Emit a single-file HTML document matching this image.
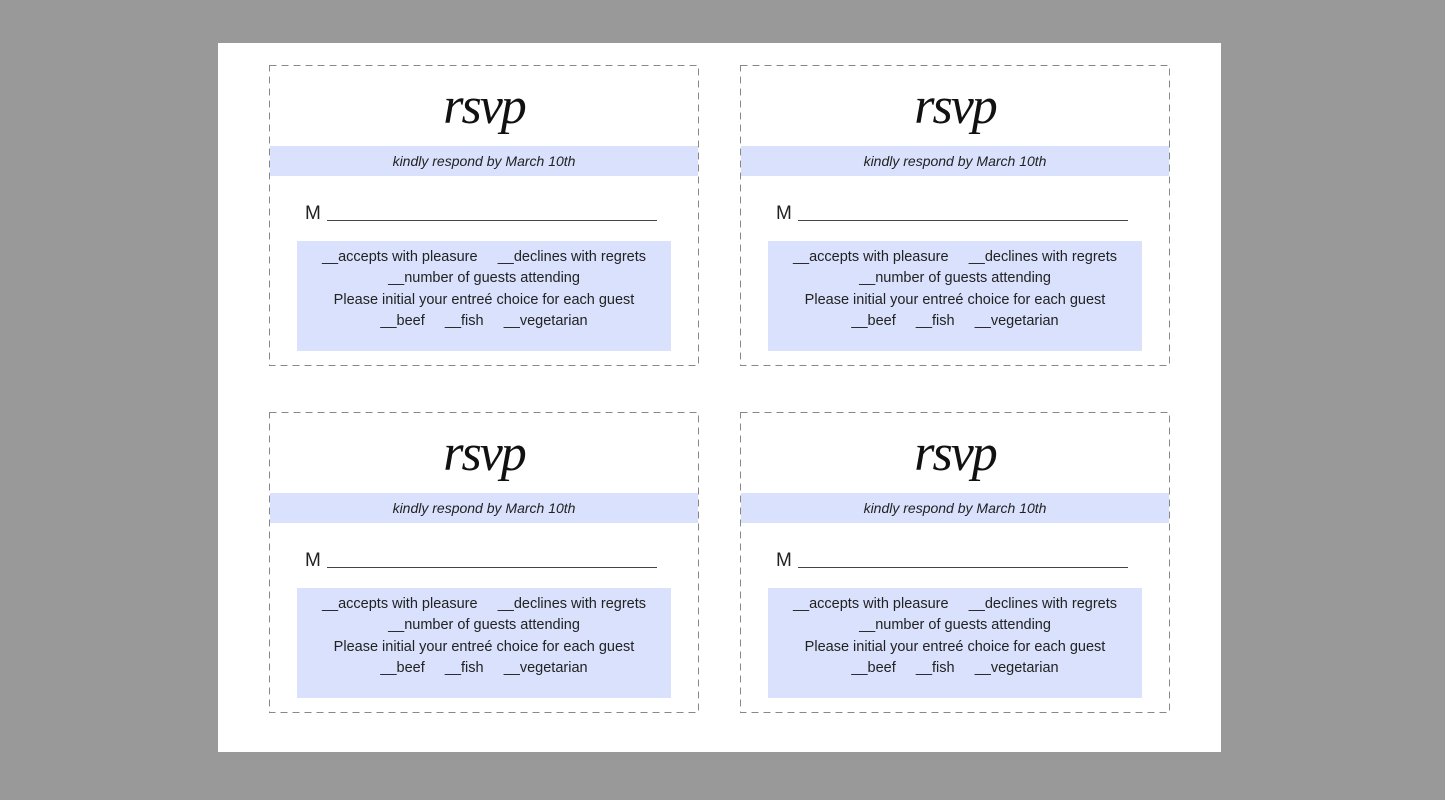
<!DOCTYPE html>
<html><head><meta charset="utf-8"><style>
body{margin:0;width:1445px;height:800px;background:#999;position:relative;overflow:hidden;font-family:"Liberation Sans",sans-serif;}
.page{position:absolute;left:218px;top:43px;width:1003px;height:709px;background:#fff;}
.card{position:absolute;width:430px;height:301px;}
.card svg{position:absolute;left:0;top:0;}
.rsvp{position:absolute;left:0;width:100%;top:12px;text-align:center;font-family:"Liberation Serif",serif;font-style:italic;font-size:52px;color:#111;letter-spacing:-2px;}
.band{position:absolute;left:1px;width:428px;top:81px;height:30px;background:#d9e1fc;text-align:center;font-style:italic;font-size:14px;line-height:30px;color:#222;}
.m{position:absolute;left:36px;top:138px;font-size:19px;color:#222;}
.line{position:absolute;left:58px;top:155px;width:330px;border-top:1px solid #444;}
.box{position:absolute;left:28px;top:176px;width:374px;height:110px;background:#d9e1fc;}
.t{position:absolute;left:0;width:100%;text-align:center;font-size:14.5px;color:#222;white-space:pre;}
</style></head><body>
<div class="page"></div>
<div class="card" style="left:269px;top:65px"><svg width="430" height="301"><rect x="0.5" y="0.5" width="429" height="300" fill="none" stroke="#888" stroke-dasharray="7,5"/></svg><div class="rsvp">rsvp</div><div class="band">kindly respond by March 10th</div><div class="m">M</div><div class="line"></div><div class="box"><div class="t" style="top:8px">__accepts with pleasure     __declines with regrets</div><div class="t" style="top:29px">__number of guests attending</div><div class="t" style="top:51px">Please initial your entreé choice for each guest</div><div class="t" style="top:72px">__beef     __fish     __vegetarian</div></div></div>
<div class="card" style="left:740px;top:65px"><svg width="430" height="301"><rect x="0.5" y="0.5" width="429" height="300" fill="none" stroke="#888" stroke-dasharray="7,5"/></svg><div class="rsvp">rsvp</div><div class="band">kindly respond by March 10th</div><div class="m">M</div><div class="line"></div><div class="box"><div class="t" style="top:8px">__accepts with pleasure     __declines with regrets</div><div class="t" style="top:29px">__number of guests attending</div><div class="t" style="top:51px">Please initial your entreé choice for each guest</div><div class="t" style="top:72px">__beef     __fish     __vegetarian</div></div></div>
<div class="card" style="left:269px;top:412px"><svg width="430" height="301"><rect x="0.5" y="0.5" width="429" height="300" fill="none" stroke="#888" stroke-dasharray="7,5"/></svg><div class="rsvp">rsvp</div><div class="band">kindly respond by March 10th</div><div class="m">M</div><div class="line"></div><div class="box"><div class="t" style="top:8px">__accepts with pleasure     __declines with regrets</div><div class="t" style="top:29px">__number of guests attending</div><div class="t" style="top:51px">Please initial your entreé choice for each guest</div><div class="t" style="top:72px">__beef     __fish     __vegetarian</div></div></div>
<div class="card" style="left:740px;top:412px"><svg width="430" height="301"><rect x="0.5" y="0.5" width="429" height="300" fill="none" stroke="#888" stroke-dasharray="7,5"/></svg><div class="rsvp">rsvp</div><div class="band">kindly respond by March 10th</div><div class="m">M</div><div class="line"></div><div class="box"><div class="t" style="top:8px">__accepts with pleasure     __declines with regrets</div><div class="t" style="top:29px">__number of guests attending</div><div class="t" style="top:51px">Please initial your entreé choice for each guest</div><div class="t" style="top:72px">__beef     __fish     __vegetarian</div></div></div>
</body></html>
